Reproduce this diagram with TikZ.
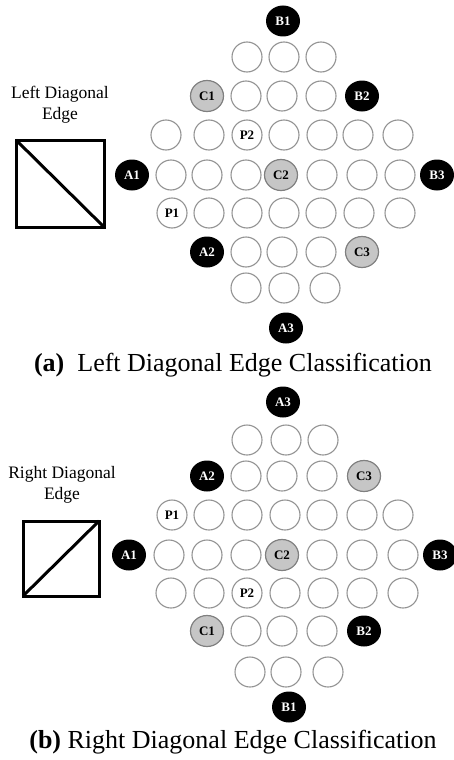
\documentclass[tikz,border=0pt]{standalone}
\usepackage{fontspec}
\setmainfont{Liberation Serif}
\usetikzlibrary{shapes.geometric}
\begin{document}
\begin{tikzpicture}[x=1pt,y=-1pt,
  lbl/.style={font=\fontsize{13}{15}\selectfont\bfseries},
  cell/.style={circle,draw=gray!85,line width=1.1pt,fill=white,minimum size=30pt,inner sep=0pt,lbl},
  dark/.style={ellipse,fill=black,text=white,minimum width=34pt,minimum height=31pt,inner sep=0pt,lbl},
  grey/.style={ellipse,draw=gray,fill=gray!45,line width=1.2pt,minimum width=33pt,minimum height=31pt,inner sep=0pt,lbl},
  side/.style={align=center,font=\fontsize{17.5}{21}\selectfont},
  captext/.style={font=\fontsize{26}{30}\selectfont},
  sq/.style={draw,line width=3pt}]
\useasboundingbox (0,0) rectangle (454,760);
% ---------- panel (a) ----------
\node[dark] (aB1) at (283,21) {B1};
\foreach \x [count=\i] in {247,284,321} \node[cell] (ar1\i) at (\x,57) {};
\node[grey] (aC1) at (207,96) {C1};
\foreach \x [count=\i] in {246,282,321} \node[cell] (ar2\i) at (\x,96) {};
\node[dark] (aB2) at (362,96) {B2};
\foreach \x [count=\i] in {166,209,284,322,358,398} \node[cell] (ar3\i) at (\x,135) {};
\node[cell] (aP2) at (247,135) {P2};
\node[dark] (aA1) at (132,175) {A1};
\foreach \x [count=\i] in {171,207,246,322,362,400} \node[cell] (ar4\i) at (\x,175) {};
\node[grey] (aC2) at (281,175) {C2};
\node[dark] (aB3) at (437,175) {B3};
\node[cell] (aP1) at (172,213) {P1};
\foreach \x [count=\i] in {209,247,284,321,359,400} \node[cell] (ar5\i) at (\x,213) {};
\node[dark] (aA2) at (207,252) {A2};
\foreach \x [count=\i] in {246,282,321} \node[cell] (ar6\i) at (\x,252) {};
\node[grey] (aC3) at (362,252) {C3};
\foreach \x [count=\i] in {246,284,325} \node[cell] (ar7\i) at (\x,288) {};
\node[dark] (aA3) at (286,328) {A3};
\node[side] (aside) at (60,105) {Left Diagonal\\Edge};
\draw[sq] (16,140) rectangle (104,227);
\draw[sq] (16,140) -- (104,227);
\node[captext] (acap) at (233,365) {\textbf{(a)}\hspace{0.5em}Left Diagonal Edge Classification};
% ---------- panel (b) ----------
\node[dark] (bA3) at (283,402) {A3};
\foreach \x [count=\i] in {247,286,323} \node[cell] (br1\i) at (\x,440) {};
\node[dark] (bA2) at (207,476) {A2};
\foreach \x [count=\i] in {246,282,322} \node[cell] (br2\i) at (\x,476) {};
\node[grey] (bC3) at (364,476) {C3};
\node[cell] (bP1) at (172,515) {P1};
\foreach \x [count=\i] in {209,247,285,322,362,398} \node[cell] (br3\i) at (\x,515) {};
\node[dark] (bA1) at (129,555) {A1};
\foreach \x [count=\i] in {169,207,246,322,362,403} \node[cell] (br4\i) at (\x,555) {};
\node[grey] (bC2) at (282,555) {C2};
\node[dark] (bB3) at (440,555) {B3};
\foreach \x [count=\i] in {171,209,285,323,362,403} \node[cell] (br5\i) at (\x,593) {};
\node[cell] (bP2) at (247,593) {P2};
\node[grey] (bC1) at (207,631) {C1};
\foreach \x [count=\i] in {246,282,322} \node[cell] (br6\i) at (\x,631) {};
\node[dark] (bB2) at (364,631) {B2};
\foreach \x [count=\i] in {250,286,328} \node[cell] (br7\i) at (\x,672) {};
\node[dark] (bB1) at (289,707) {B1};
\node[side] (bside) at (62,485) {Right Diagonal\\Edge};
\draw[sq] (23,521) rectangle (99,596);
\draw[sq] (23,596) -- (99,521);
\node[captext] (bcap) at (233,742) {\textbf{(b)}\hspace{0.25em}Right Diagonal Edge Classification};
\end{tikzpicture}
\end{document}
